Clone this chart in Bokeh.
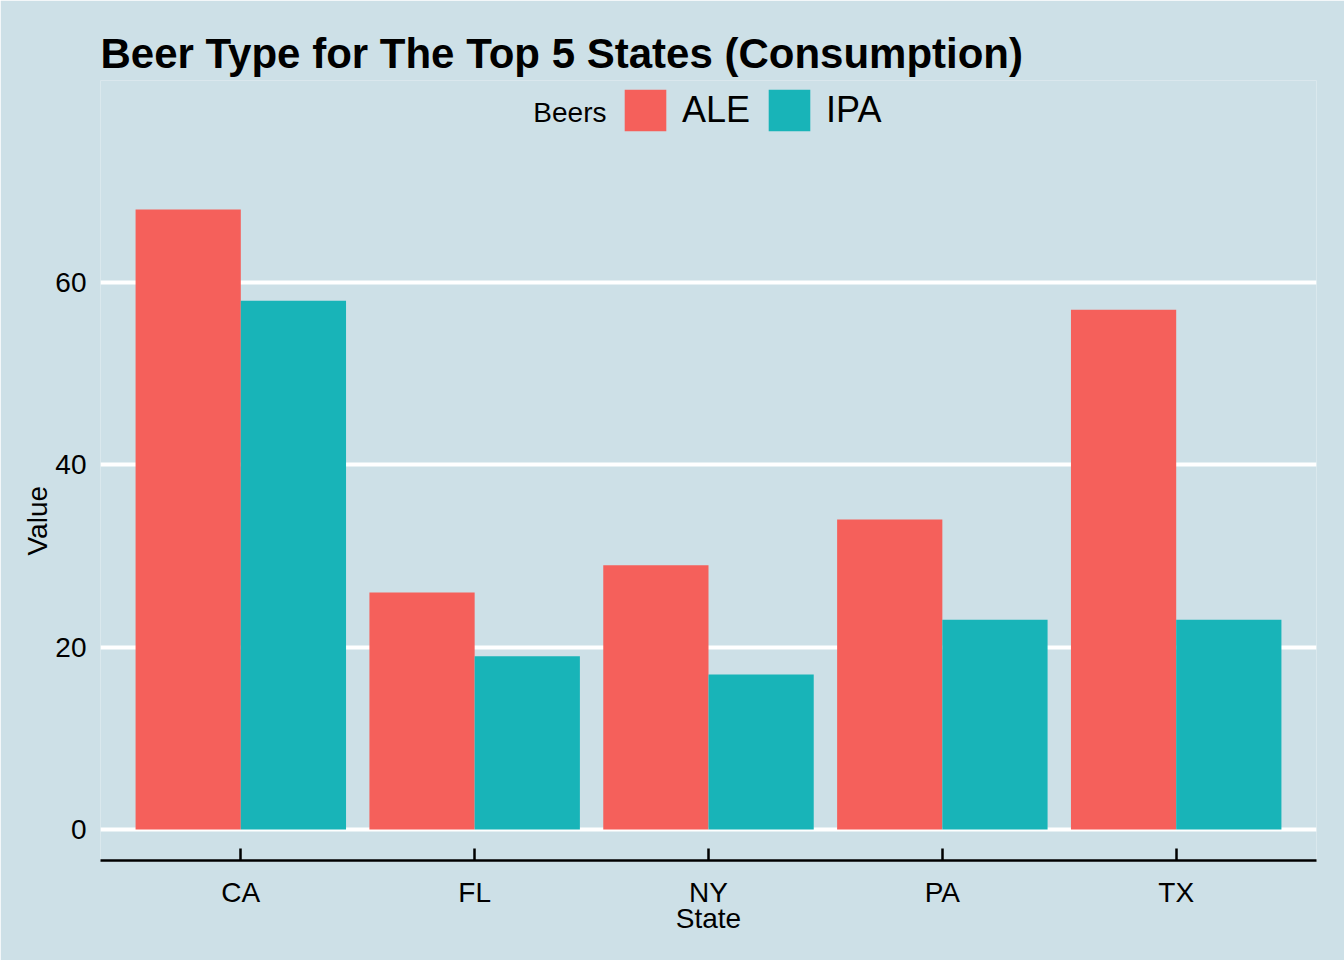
from bokeh.plotting import figure
from bokeh.models import FactorRange, Legend, LegendItem, ColumnDataSource, Label, Title
from bokeh.transform import dodge
from bokeh.embed import file_html
from bokeh.resources import INLINE

states = ["CA", "FL", "NY", "PA", "TX"]
ale = [68, 26, 29, 34, 57]
ipa = [58, 19, 17, 23, 23]
y_ticks = [0, 20, 40, 60]

BG = "#CDE0E7"
ALE_C = "#F5605B"
IPA_C = "#18B4B8"
FONT = "Liberation Sans"

src = ColumnDataSource(dict(state=states, ale=ale, ipa=ipa))

p = figure(width=1344, height=960, output_backend="svg", toolbar_location=None,
           x_range=FactorRange(factors=states, range_padding=0.1, range_padding_units="absolute"),
           y_range=(-3.4, 82.16),
           min_border_left=100, min_border_right=28, min_border_top=80, min_border_bottom=100)

r1 = p.vbar(x=dodge("state", -0.225, range=p.x_range), top="ale", width=0.45, bottom=0,
            source=src, fill_color=ALE_C, line_color=None)
r2 = p.vbar(x=dodge("state", 0.225, range=p.x_range), top="ipa", width=0.45, bottom=0,
            source=src, fill_color=IPA_C, line_color=None)

p.background_fill_color = BG
p.border_fill_color = BG
p.outline_line_color = None

p.title.text = "Beer Type for The Top 5 States (Consumption)"
p.title.text_font = FONT
p.title.text_font_style = "bold"
p.title.text_font_size = "42px"
p.title.text_color = "black"
p.title.align = "left"
p.title.standoff = 7

p.xgrid.grid_line_color = None
p.ygrid.grid_line_color = "white"
p.ygrid.grid_line_width = 4
p.yaxis.ticker = y_ticks

p.yaxis.axis_line_color = None
p.yaxis.major_tick_line_color = None
p.yaxis.minor_tick_line_color = None
p.yaxis.major_label_text_font = FONT
p.yaxis.major_label_text_font_size = "28px"
p.yaxis.major_label_text_color = "black"
p.yaxis.major_label_standoff = 8

ylabel = Title(text="Value", align="left", offset=305, standoff=0,
               text_font=FONT, text_font_size="28px", text_font_style="normal",
               text_color="black")
p.add_layout(ylabel, "left")

p.xaxis.axis_line_color = "black"
p.xaxis.axis_line_width = 2.5
p.xaxis.major_tick_line_color = "black"
p.xaxis.major_tick_line_width = 2.5
p.xaxis.major_tick_in = 12
p.xaxis.major_tick_out = 0
p.xaxis.major_label_text_font = FONT
p.xaxis.major_label_text_font_size = "28px"
p.xaxis.major_label_text_color = "black"
p.xaxis.major_label_standoff = 16
p.xaxis.axis_label = "State"
p.xaxis.axis_label_text_font = FONT
p.xaxis.axis_label_text_font_size = "28px"
p.xaxis.axis_label_text_font_style = "normal"
p.xaxis.axis_label_text_color = "black"
p.xaxis.axis_label_standoff = -8

legend = Legend(items=[LegendItem(label="ALE", renderers=[r1]), LegendItem(label="IPA", renderers=[r2])],
                orientation="horizontal", location=(519, 724),
                label_text_font=FONT, label_text_font_size="36px", label_text_color="black",
                glyph_width=52, glyph_height=52, label_standoff=11, spacing=13,
                padding=0, margin=0, border_line_color=None, background_fill_alpha=0)
p.add_layout(legend, "center")

beers = Label(x=506, y=748, x_units="screen", y_units="screen", text="Beers",
              text_font=FONT, text_font_size="28px", text_color="black",
              text_align="right", text_baseline="middle")
p.add_layout(beers)

open("out.html", "w").write(file_html(p, INLINE))
